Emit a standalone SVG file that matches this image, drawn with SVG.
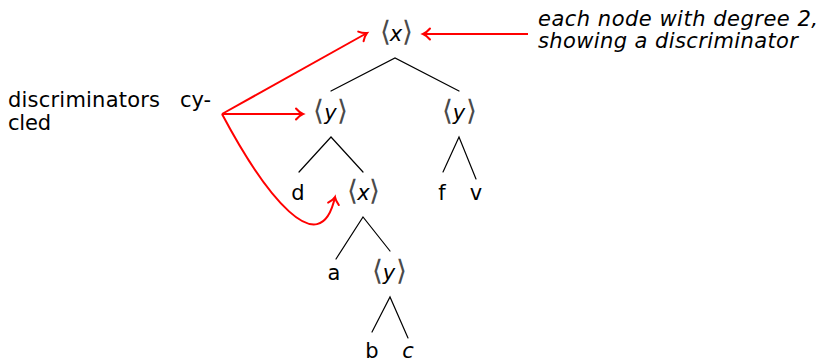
<svg xmlns="http://www.w3.org/2000/svg" width="826" height="362" viewBox="0 0 826 362">
  <style>
    text { font-family: "DejaVu Sans", "Liberation Sans", sans-serif; font-size: 21px; fill: #000; }
    .lbl { text-anchor: middle; }
    .it { font-style: italic; }
    .br { font-size: 28px; font-weight: 200; fill: #4a4a4a; }
    .edge { stroke: #000; stroke-width: 1.2; fill: none; stroke-linecap: round; }
    .ptr { stroke: #ff0000; stroke-width: 2; fill: none; marker-end: url(#tip); }
  </style>
  <defs>
    <marker id="tip" markerUnits="userSpaceOnUse" markerWidth="16" markerHeight="16" viewBox="-10 -8 12 16" refX="0" refY="0" orient="auto">
      <path d="M-7,-5.5 C-4.5,-2.5 -1.5,-0.6 0,0 C-1.5,0.6 -4.5,2.5 -7,5.5" fill="none" stroke="#ff0000" stroke-width="2" stroke-linecap="round"/>
    </marker>
  </defs>

  <!-- tree edges -->
  <g id="edges">
    <path class="edge" d="M331,91 L395,58 L459,91"/>
    <path class="edge" d="M299,172 L331,137 L363,172"/>
    <path class="edge" d="M443,172 L459,137 L476,179"/>
    <path class="edge" d="M336,259 L363,217 L390,251"/>
    <path class="edge" d="M372,332 L390,297 L408,338"/>
  </g>

  <!-- annotation arrows -->
  <g id="annotation-arrows">
    <path class="ptr" d="M222,114 L367,33"/>
    <path class="ptr" d="M222,114 L303,114"/>
    <path class="ptr" d="M222,114 C265,195 320,265 335,197"/>
    <path class="ptr" d="M528,34 L423,34"/>
  </g>

  <!-- tree nodes: discriminator nodes are drawn as ⟨var⟩ -->
  <g id="root-x"><text class="lbl" y="41"><tspan class="br" x="385.5">⟨</tspan><tspan class="it" x="396">x</tspan><tspan class="br" x="407">⟩</tspan></text></g>
  <g id="y-left"><text class="lbl" y="120"><tspan class="br" x="318.5">⟨</tspan><tspan class="it" x="330.5">y</tspan><tspan class="br" x="342.5">⟩</tspan></text></g>
  <g id="y-right"><text class="lbl" y="120"><tspan class="br" x="447">⟨</tspan><tspan class="it" x="459">y</tspan><tspan class="br" x="471">⟩</tspan></text></g>
  <g id="leaf-d"><text class="lbl" x="298" y="200">d</text></g>
  <g id="x-mid"><text class="lbl" y="200"><tspan class="br" x="352.5">⟨</tspan><tspan class="it" x="363.5">x</tspan><tspan class="br" x="374.5">⟩</tspan></text></g>
  <g id="leaf-f"><text class="lbl" x="442" y="200">f</text></g>
  <g id="leaf-v"><text class="lbl" x="476" y="200">v</text></g>
  <g id="leaf-a"><text class="lbl" x="334" y="280">a</text></g>
  <g id="y-low"><text class="lbl" y="280"><tspan class="br" x="377">⟨</tspan><tspan class="it" x="389">y</tspan><tspan class="br" x="401">⟩</tspan></text></g>
  <g id="leaf-b"><text class="lbl" x="372" y="358">b</text></g>
  <g id="leaf-c"><text class="lbl it" x="408" y="358">c</text></g>

  <!-- side notes -->
  <g id="note-cycled">
    <text x="8" y="107"><tspan x="8" textLength="152" lengthAdjust="spacing">discriminators</tspan><tspan x="180" textLength="31" lengthAdjust="spacing">cy-</tspan></text>
    <text x="8" y="130" textLength="43" lengthAdjust="spacing">cled</text>
  </g>
  <g id="note-degree">
    <text class="it" x="538" y="26" textLength="280" lengthAdjust="spacing">each node with degree 2,</text>
    <text class="it" x="538" y="48" textLength="260" lengthAdjust="spacing">showing a discriminator</text>
  </g>
</svg>
